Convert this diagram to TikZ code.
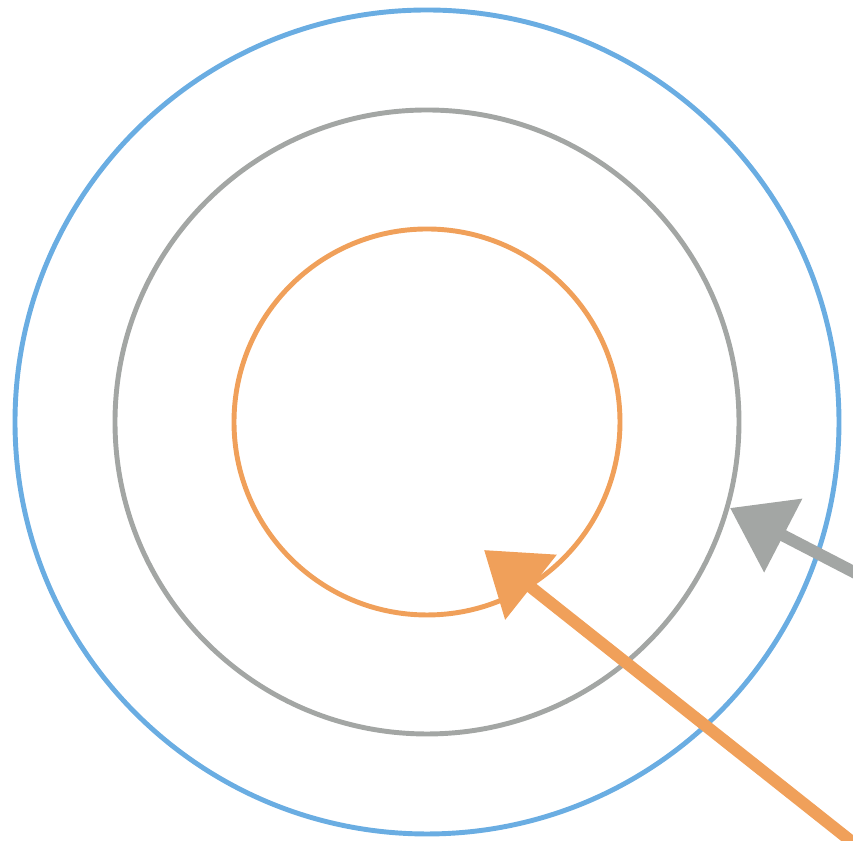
\documentclass[tikz,border=0pt]{standalone}
\usetikzlibrary{arrows.meta}

\definecolor{azzurro}{HTML}{6AADE2}
\definecolor{grigio}{HTML}{A3A6A4}
\definecolor{arancio}{HTML}{F0A05A}

\tikzset{
    cerchio/.style={line width=1.4pt},
    freccia/.style={line width=0.12cm, -{Triangle[length=0.6cm, width=0.8cm]}}
}

\begin{document}
\begin{tikzpicture}
    % Area del disegno
    \useasboundingbox (0,0) rectangle (8.53,-8.41);
    \clip (0,0) rectangle (8.53,-8.41);

    % Centro e punti delle frecce
    \coordinate (O) at (4.27,-4.22);
    \coordinate (codaA) at (8.90,-8.72);
    \coordinate (puntaA) at (4.84,-5.50);
    \coordinate (codaG) at (9.00,-5.96);
    \coordinate (puntaG) at (7.30,-5.08);

    % Cerchi concentrici
    \draw[cerchio, azzurro] (O) circle (4.12cm);
    \draw[cerchio, grigio]  (O) circle (3.12cm);
    \draw[cerchio, arancio] (O) circle (1.93cm);

    % Frecce
    \draw[freccia, grigio]  (codaG) -- (puntaG);
    \draw[freccia, arancio] (codaA) -- (puntaA);
\end{tikzpicture}
\end{document}
